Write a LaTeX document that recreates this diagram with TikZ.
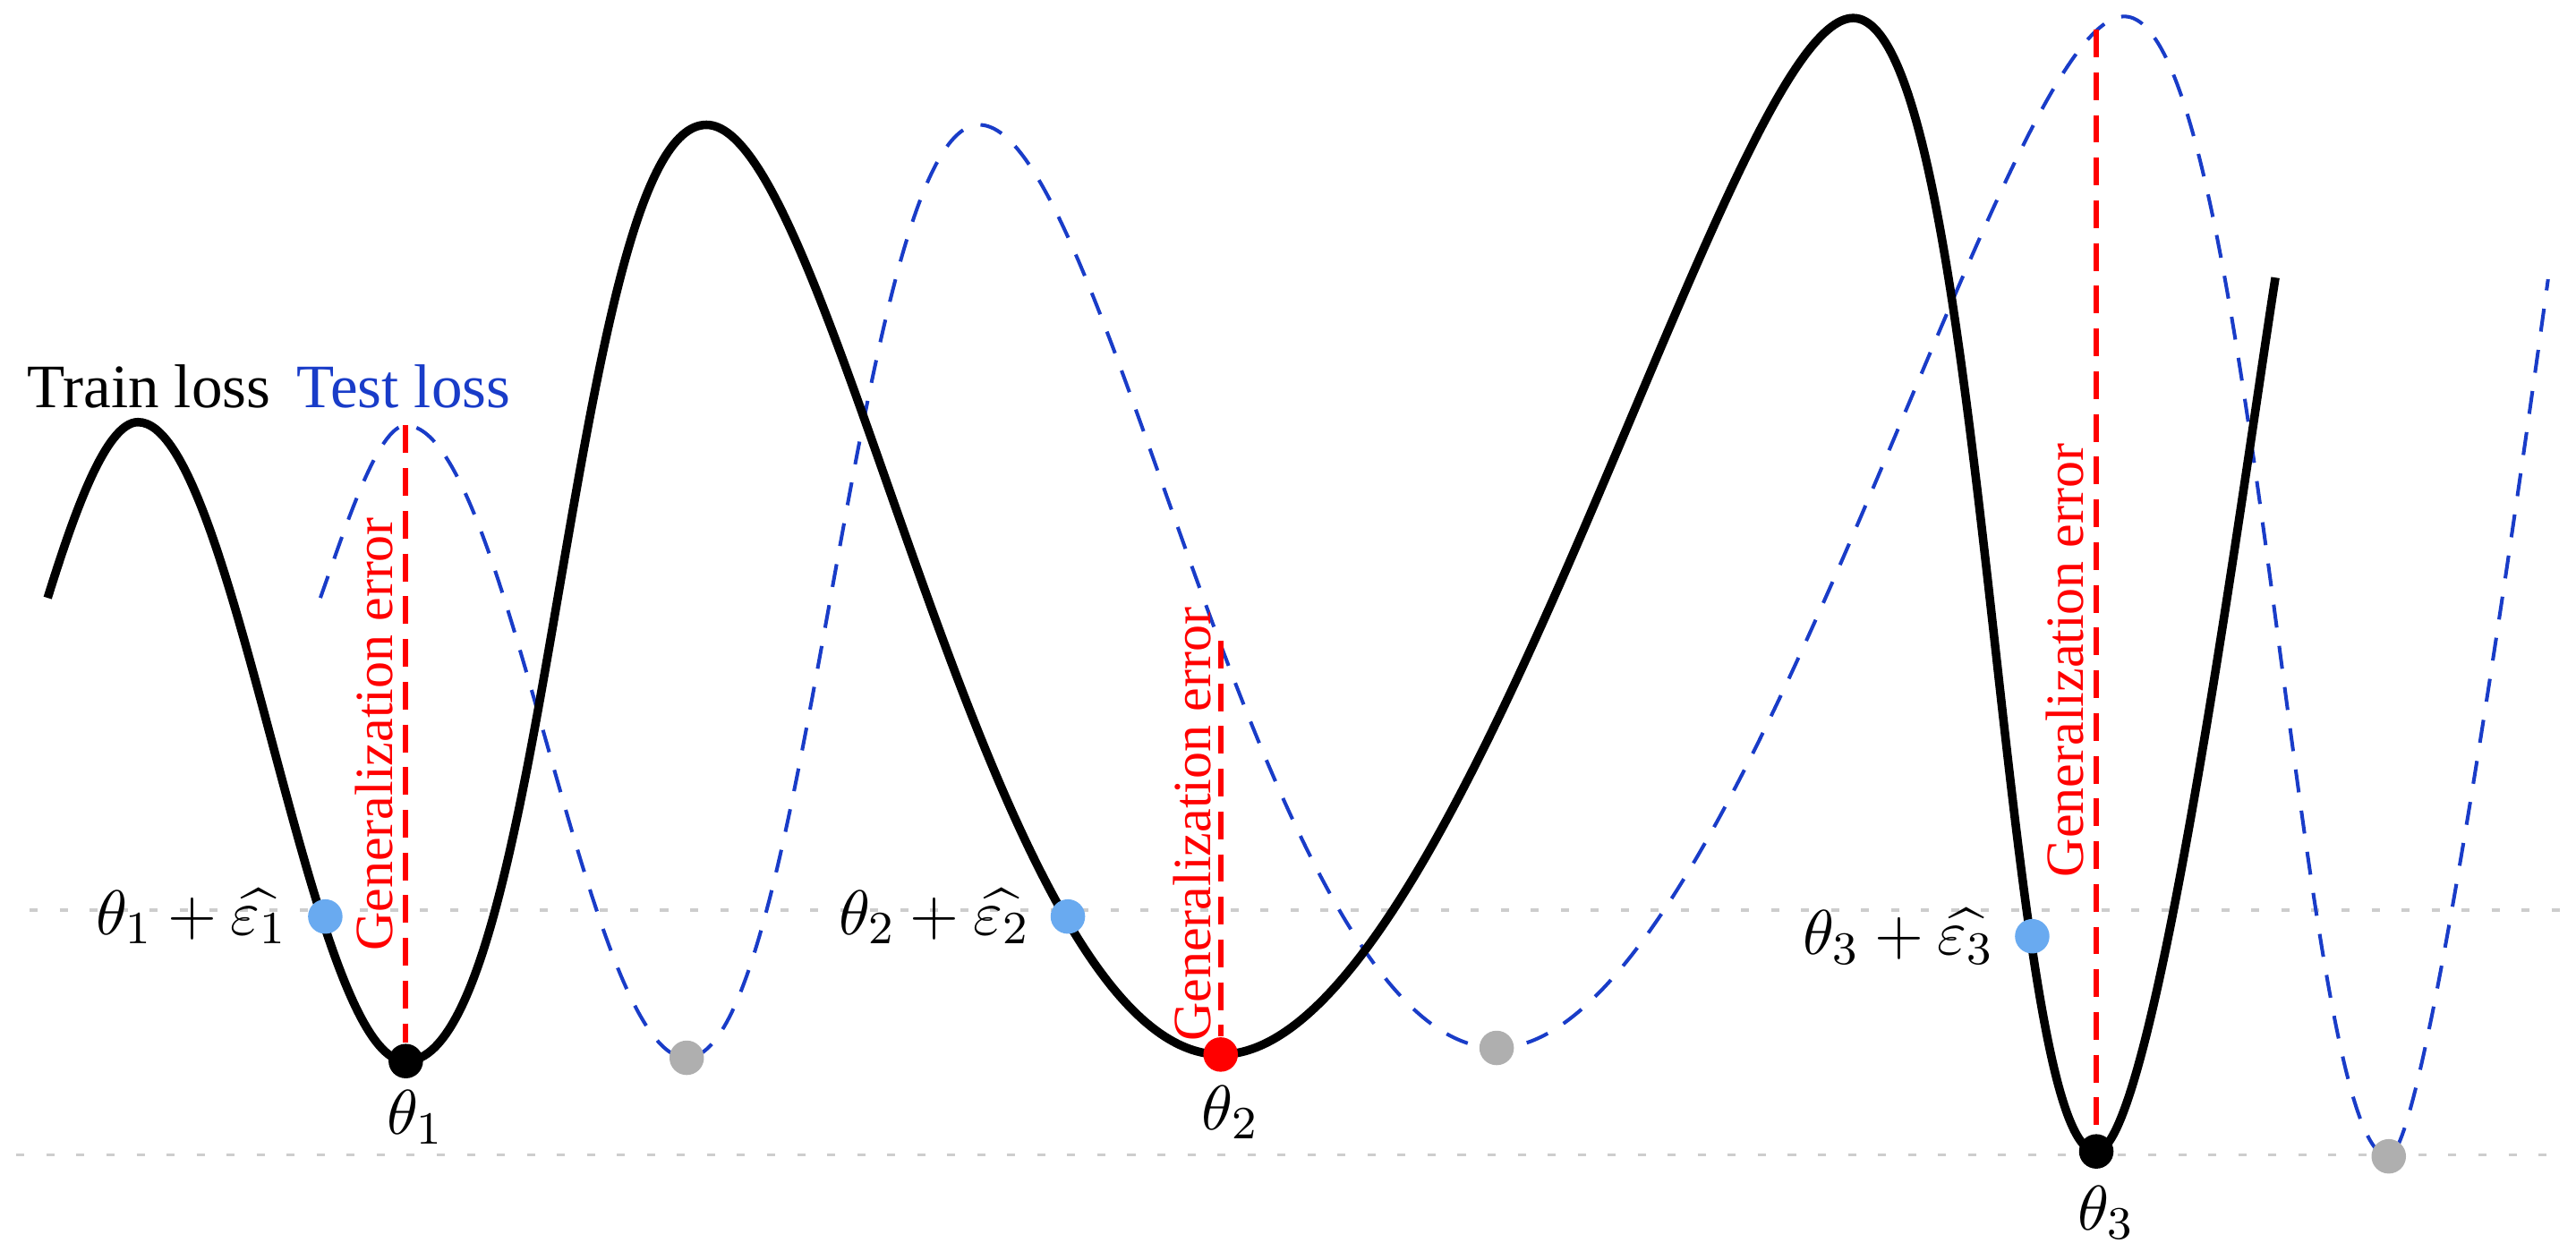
\documentclass[tikz,border=0pt]{standalone}
\usepackage[no-math]{fontspec}
\setmainfont{Liberation Serif}
\usepackage{amsmath}
\usetikzlibrary{positioning}

\definecolor{testblue}{RGB}{25,60,200}
\definecolor{ptblue}{RGB}{105,170,240}
\definecolor{ptgrey}{RGB}{175,175,175}
\definecolor{guidegrey}{RGB}{205,205,205}

\tikzset{
  trainloss/.style={line width=0.52mm, black},
  testloss/.style={line width=0.22mm, testblue, dash pattern=on 4pt off 3.2pt},
  generr/.style={line width=0.33mm, red, dash pattern=on 4.8pt off 2.6pt},
  guide/.style={line width=0.18mm, guidegrey, dash pattern=on 1.4pt off 3.8pt},
  lossdot/.style={circle, inner sep=0pt, minimum size=2.1mm},
  gentext/.style={red, rotate=90, anchor=base, inner sep=0pt, font=\fontsize{9.3}{11}\selectfont},
  keytext/.style={anchor=base west, inner sep=0pt, font=\fontsize{10.7}{12}\selectfont},
  mathlbl/.style={inner sep=0pt, font=\fontsize{11}{13}\selectfont}
}

\begin{document}
\begin{tikzpicture}[x=0.1mm, y=-0.1mm]
  \useasboundingbox (0,0) rectangle (1568,767);

  % guide lines
  \coordinate (gl1) at (18,554);
  \coordinate (gr1) at (1562,554);
  \coordinate (gl2) at (10,703);
  \coordinate (gr2) at (1562,703);
  \draw [guide] (gl1) -- (gr1);
  \draw [guide] (gl2) -- (gr2);

  % test loss
  \draw [testloss] (195,364) .. controls (210,322) and (230,259) .. (247,259)
    .. controls (309,259) and (356,644) .. (418,644)
    .. controls (492,644) and (520,76) .. (596,76)
    .. controls (675,76) and (769,638) .. (911,638)
    .. controls (1058,638) and (1217,10) .. (1293,10)
    .. controls (1373,10) and (1398,704) .. (1454,704)
    .. controls (1476,704) and (1533,301) .. (1551,170);

  % train loss
  \draw [trainloss] (29,364) .. controls (44,316) and (64,257) .. (84,257)
    .. controls (143,257) and (188,646) .. (247,646)
    .. controls (334,646) and (347,76) .. (430,76)
    .. controls (508,76) and (602,642) .. (743,642)
    .. controls (891,642) and (1051,11) .. (1128,11)
    .. controls (1209,11) and (1217,701) .. (1276,701)
    .. controls (1311,701) and (1365,297) .. (1385,169);

  % minima and perturbed points
  \node [lossdot, fill=black] (th1) at (247,646) {};
  \node [lossdot, fill=red] (th2) at (743,642) {};
  \node [lossdot, fill=black] (th3) at (1276,701) {};
  \node [lossdot, fill=ptblue] (pt1) at (198,558) {};
  \node [lossdot, fill=ptblue] (pt2) at (650,558) {};
  \node [lossdot, fill=ptblue] (pt3) at (1237,570) {};
  \node [lossdot, fill=ptgrey] (ts1) at (418,644) {};
  \node [lossdot, fill=ptgrey] (ts2) at (911,638) {};
  \node [lossdot, fill=ptgrey] (ts3) at (1454,704) {};

  % generalization error
  \coordinate (top1) at (247,259);
  \coordinate (top2) at (743,390);
  \coordinate (top3) at (1276,18);
  \draw [generr] (top1) -- (th1);
  \draw [generr] (top2) -- (th2);
  \draw [generr] (top3) -- (th3);
  \node [gentext] (ge1) at (239,447) {Generalization error};
  \node [gentext] (ge2) at (737,502) {Generalization error};
  \node [gentext] (ge3) at (1268,402) {Generalization error};

  % labels
  \node [mathlbl, below=0.6mm of th1, xshift=0.6mm] (lth1) {$\theta_1$};
  \node [mathlbl, below=0.7mm of th2, xshift=0.6mm] (lth2) {$\theta_2$};
  \node [mathlbl, below=0.9mm of th3, xshift=0.6mm] (lth3) {$\theta_3$};
  \node [mathlbl, left=1.1mm of pt1] (lpt1) {$\theta_1+\widehat{\varepsilon_1}$};
  \node [mathlbl, left=1.1mm of pt2] (lpt2) {$\theta_2+\widehat{\varepsilon_2}$};
  \node [mathlbl, left=1.1mm of pt3] (lpt3) {$\theta_3+\widehat{\varepsilon_3}$};

  \node [keytext] (trainkey) at (16,248) {Train loss};
  \node [keytext, testblue] (testkey) at (180,248) {Test loss};
\end{tikzpicture}
\end{document}
